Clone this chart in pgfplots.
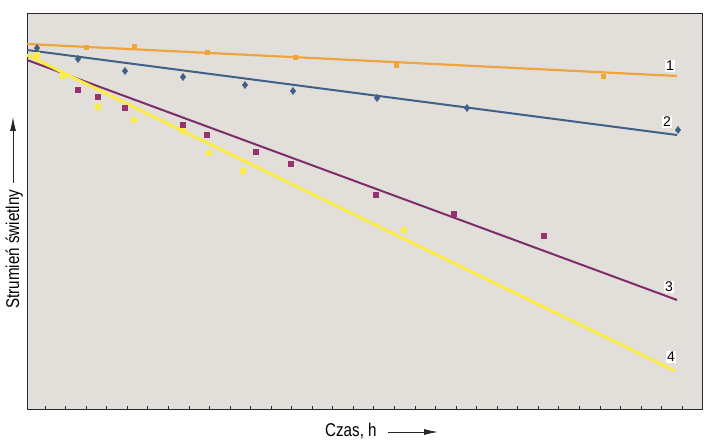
\documentclass[border=0pt]{standalone}
\usepackage{fontspec}
\setmainfont{Liberation Sans}
\newfontfamily\narrowfont[FakeStretch=0.82]{Liberation Sans}
\usepackage{pgfplots}
\pgfplotsset{compat=1.18}
\usetikzlibrary{arrows.meta}
\definecolor{bggrey}{RGB}{226,223,219}
\definecolor{corange}{RGB}{240,165,60}
\definecolor{cblue}{RGB}{65,95,135}
\definecolor{cpurple}{RGB}{125,45,105}
\definecolor{cpurplem}{RGB}{150,50,110}
\definecolor{cyellow}{RGB}{250,235,70}
\definecolor{axiscol}{RGB}{45,35,45}
\begin{document}
\begin{tikzpicture}
\useasboundingbox (-27pt,-31pt) rectangle (687pt,410pt);
\begin{axis}[
  at={(0pt,0pt)}, anchor=south west,
  scale only axis, width=675pt, height=396pt,
  xmin=27, xmax=702, ymin=0, ymax=396,
  axis background/.style={fill=bggrey},
  axis line style={axiscol, line width=1pt},
  xtick={45,65.55,...,683}, xticklabels={},
  ytick=\empty,
  tick pos=bottom, tick align=inside,
  major tick length=4pt,
  tick style={axiscol, line width=0.7pt},
  clip=false,
]
% 1 orange
\addplot[corange, line width=2.2pt] coordinates {(27,366) (677,334)};
\addplot[only marks, mark=square*, mark size=2.2pt, color=corange] coordinates {(86,363) (134,364) (207,358) (295,353) (396,345) (603,334)};
% 2 blue
\addplot[cblue, line width=2pt] coordinates {(27,360) (677,275)};
\addplot[only marks, mark=diamond*, mark size=3.6pt, color=cblue] coordinates {(37,362) (78,351) (125,339) (183,333) (245,325) (293,319) (377,312) (467,302) (678,280)};
% 3 purple
\addplot[cpurple, line width=2pt] coordinates {(27,350) (677,110)};
\addplot[only marks, mark=square*, mark size=2.4pt, color=cpurplem] coordinates {(78,320) (98,313) (125,302) (183,285) (207,275) (256,258) (291,246) (376,215) (454,196) (544,174)};
% 4 yellow
\addplot[cyellow, line width=3pt] coordinates {(27,355) (675,39)};
\addplot[only marks, mark=square*, mark size=2.6pt, color=cyellow] coordinates {(37,355) (63,334) (98,303) (134,290) (183,279) (209,257) (243,239) (404,180)};
% curve labels
\node[fill=white, inner sep=1pt, font=\fontsize{14}{14}\selectfont] at (axis cs:670,344) {1};
\node[fill=white, inner sep=1pt, font=\fontsize{14}{14}\selectfont] at (axis cs:667,288) {2};
\node[fill=white, inner sep=1pt, font=\fontsize{14}{14}\selectfont] at (axis cs:669,123) {3};
\node[fill=white, inner sep=1pt, font=\fontsize{14}{14}\selectfont] at (axis cs:671,53) {4};
\end{axis}
% axis titles
\node[anchor=base west, inner sep=0pt, font=\narrowfont\fontsize{18.5}{18.5}\selectfont] at (298pt,-27pt) {Czas, h};
\draw[axiscol, line width=0.8pt, -{Latex[length=14pt,width=6pt]}] (361pt,-22pt) -- (411pt,-22pt);
\node[anchor=base west, rotate=90, inner sep=0pt, font=\narrowfont\fontsize{18.5}{18.5}\selectfont] at (-8pt,101pt) {Strumień świetlny};
\draw[axiscol, line width=0.8pt, -{Latex[length=14pt,width=6pt]}] (-14pt,227pt) -- (-14pt,293pt);
\end{tikzpicture}
\end{document}
